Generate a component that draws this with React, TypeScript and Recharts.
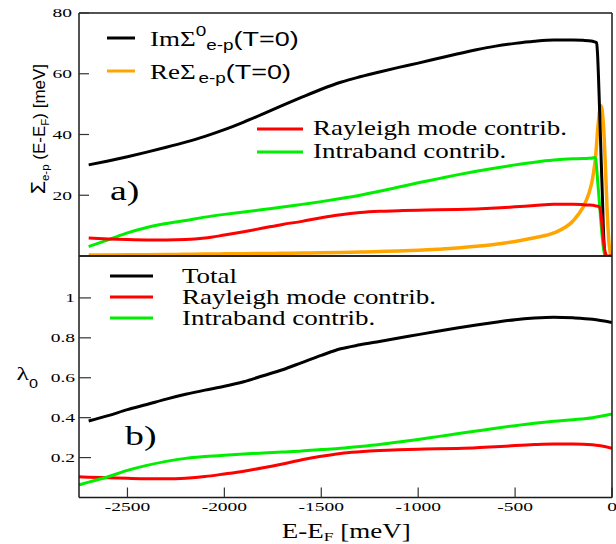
import React from 'react';
import { LineChart, Line, XAxis, YAxis } from 'recharts';

const SERIF = "'Liberation Serif', 'Times New Roman', serif";
const SANS = "'Liberation Sans', Arial, sans-serif";
const STRETCH = 1.35;

const BLACK = '#000000';
const ORANGE = '#ffa500';
const RED = '#ff0000';
const GREEN = '#00ee00';
const FRAME = '#1a1a1a';
const TICK = '#333333';

// panel a) : self energy vs E-E_F (meV)
const energyTop = [
  -2700, -2600, -2500, -2400, -2300, -2200, -2100, -2000, -1900, -1800, -1700, -1600, -1500,
  -1400, -1300, -1200, -1100, -1000, -900, -800, -700, -600, -500, -400, -300, -200,
  -150, -120, -100, -90, -85, -80, -75, -70, -65, -60, -55, -50, -45, -40, -35, -30, -25, -20,
  -15, -10, -5, 0,
];
const imSigma = [
  30.0, 31.3, 32.7, 34.2, 35.8, 37.5, 39.4, 41.6, 44.1, 46.8, 49.6, 52.3, 54.9,
  57.2, 59.0, 60.6, 62.1, 63.5, 65.0, 66.5, 67.9, 69.1, 70.0, 70.7, 71.1, 71.1,
  71.0, 70.9, 70.7, 70.5, 70.4, 70.2, 67.0, 59.5, 50.0, 40.0, 30.0, 20.5, 10.0, 3.0, 0.3, 0, null, null,
  null, null, null, null,
];
const reSigma = [
  0.3, 0.35, 0.4, 0.45, 0.5, 0.55, 0.62, 0.7, 0.76, 0.82, 0.88, 0.95, 1.05,
  1.18, 1.32, 1.48, 1.66, 1.88, 2.2, 2.6, 3.2, 3.9, 4.8, 6.0, 7.6, 11.6,
  16.0, 20.5, 25.5, 29.8, 32.5, 36.5, 40.8, 44.3, 47.3, 49.2, 49.5, 47.5, 44.0, 38.5, 31.0, 23.0, 15.0, 8.5,
  4.0, 1.5, 0.4, 0,
];
const rayleighSigma = [
  5.9, 5.6, 5.4, 5.3, 5.3, 5.4, 5.9, 6.9, 8.0, 9.2, 10.4, 11.4, 12.6,
  13.6, 14.3, 14.7, 14.9, 15.1, 15.2, 15.3, 15.5, 15.8, 16.2, 16.6, 17.0, 17.0,
  16.9, 16.8, 16.7, 16.6, 16.5, 16.5, 16.4, 16.3, 16.1, 15.4, 12.5, 9.0, 5.5, 3.0, 1.2, 0.3, 0, 0,
  0, 0, 0, 0,
];
const intraSigma = [
  3.1, 5.3, 7.6, 9.4, 10.7, 11.7, 12.8, 13.7, 14.5, 15.3, 16.1, 17.0, 17.9,
  18.9, 20.0, 21.3, 22.7, 24.1, 25.4, 26.7, 27.9, 29.0, 30.0, 30.9, 31.6, 32.0,
  32.1, 32.2, 32.3, 32.4, 32.3, 29.5, 25.5, 21.5, 17.5, 13.5, 9.5, 6.0, 3.0, 1.0, 0.2, 0, null, null,
  null, null, null, null,
];

// panel b) : coupling constant
const energyBottom = [
  -2750, -2700, -2600, -2500, -2400, -2300, -2200, -2100, -2000, -1900, -1800, -1700, -1600, -1500,
  -1400, -1300, -1200, -1100, -1000, -900, -800, -700, -600, -500, -400, -300, -200, -100, 0,
];
const lambdaTotal = [
  null, 0.383, 0.41, 0.44, 0.466, 0.493, 0.517, 0.538, 0.557, 0.58, 0.61, 0.64, 0.676, 0.712,
  0.745, 0.765, 0.782, 0.799, 0.816, 0.833, 0.849, 0.864, 0.878, 0.891, 0.899, 0.903, 0.9, 0.893, 0.877,
];
const lambdaRayleigh = [
  0.104, 0.102, 0.099, 0.096, 0.094, 0.094, 0.097, 0.105, 0.118, 0.132, 0.149, 0.168, 0.189, 0.207,
  0.221, 0.229, 0.235, 0.239, 0.242, 0.244, 0.246, 0.249, 0.254, 0.26, 0.265, 0.268, 0.268, 0.264, 0.247,
];
const lambdaIntra = [
  0.063, 0.077, 0.104, 0.136, 0.161, 0.181, 0.196, 0.205, 0.212, 0.218, 0.223, 0.228, 0.233, 0.24,
  0.247, 0.256, 0.266, 0.278, 0.291, 0.305, 0.319, 0.333, 0.347, 0.36, 0.372, 0.382, 0.39, 0.4, 0.418,
];

const xMajor = [-2500, -2000, -1500, -1000, -500, 0];
const xMinor = [-2250, -1750, -1250, -750, -250];
const sigmaMajor = [20, 40, 60, 80];
const sigmaMinor = [10, 30, 50, 70];
const lambdaMajor = [0.2, 0.4, 0.6, 0.8, 1];
const lambdaMinor = [0.1, 0.3, 0.5, 0.7, 0.9, 1.1];

const topData = energyTop.map((e, i) => ({
  e,
  im: imSigma[i],
  re: reSigma[i],
  ray: rayleighSigma[i],
  intra: intraSigma[i],
}));
const bottomData = energyBottom.map((e, i) => ({
  e,
  total: lambdaTotal[i],
  ray: lambdaRayleigh[i],
  intra: lambdaIntra[i],
}));

const X_DOMAIN: [number, number] = [-2750, 0];

const yTick = ({ x, y, payload }: any) => (
  <text
    transform={`translate(${x},${y}) scale(1.5,1)`}
    textAnchor="end"
    dy="0.34em"
    fontSize={13}
    fontFamily={SERIF}
    fill="#000"
  >
    {payload.value}
  </text>
);

const xTick = ({ x, y, payload }: any) => (
  <text
    transform={`translate(${x},${y}) scale(1.5,1)`}
    textAnchor="middle"
    dy="0.71em"
    fontSize={13}
    fontFamily={SERIF}
    fill="#000"
  >
    {payload.value}
  </text>
);

const frameLine = { stroke: FRAME, strokeWidth: 1.5 };
const tickLine = { stroke: TICK, strokeWidth: 1.2 };

function stretch(x: number, y: number, sx = STRETCH) {
  return `translate(${x},${y}) scale(${sx},1)`;
}

// every axis is 1px thick (recharts skips 0-sized axes); margins make up the rest
function SigmaPanel() {
  return (
    <LineChart width={616} height={262} data={topData} margin={{ top: 11, right: 2, bottom: 5, left: 77 }}>
      <XAxis xAxisId="b" dataKey="e" type="number" domain={X_DOMAIN} allowDataOverflow orientation="bottom"
        height={1} ticks={xMajor} tick={false} tickLine={false} axisLine={frameLine} />
      <XAxis xAxisId="t" dataKey="e" type="number" domain={X_DOMAIN} allowDataOverflow orientation="top"
        height={1} ticks={xMajor} interval={0} tick={false} tickSize={-10} tickLine={tickLine} axisLine={frameLine} />
      <XAxis xAxisId="tm" dataKey="e" type="number" domain={X_DOMAIN} allowDataOverflow orientation="top"
        height={1} ticks={xMinor} interval={0} tick={false} tickSize={-5} tickLine={tickLine} axisLine={false} />
      <YAxis yAxisId="l" type="number" domain={[0, 80]} allowDataOverflow width={1} ticks={sigmaMajor}
        interval={0} tickSize={-10} tickMargin={17} tick={yTick} tickLine={tickLine} axisLine={frameLine} />
      <YAxis yAxisId="lm" type="number" domain={[0, 80]} allowDataOverflow width={1} ticks={sigmaMinor}
        interval={0} tickSize={-5} tick={false} tickLine={tickLine} axisLine={false} />
      <YAxis yAxisId="r" orientation="right" type="number" domain={[0, 80]} allowDataOverflow width={1}
        ticks={sigmaMajor} interval={0} tickSize={-10} tick={false} tickLine={tickLine} axisLine={frameLine} />
      <YAxis yAxisId="rm" orientation="right" type="number" domain={[0, 80]} allowDataOverflow width={1}
        ticks={sigmaMinor} interval={0} tickSize={-5} tick={false} tickLine={tickLine} axisLine={false} />
      <Line xAxisId="b" yAxisId="l" type="monotone" dataKey="re" stroke={ORANGE} strokeWidth={3.5}
        dot={false} activeDot={false} isAnimationActive={false} />
      <Line xAxisId="b" yAxisId="l" type="monotone" dataKey="im" stroke={BLACK} strokeWidth={3}
        dot={false} activeDot={false} isAnimationActive={false} />
      <Line xAxisId="b" yAxisId="l" type="monotone" dataKey="intra" stroke={GREEN} strokeWidth={3}
        dot={false} activeDot={false} isAnimationActive={false} />
      <Line xAxisId="b" yAxisId="l" type="monotone" dataKey="ray" stroke={RED} strokeWidth={3}
        dot={false} activeDot={false} isAnimationActive={false} />
    </LineChart>
  );
}

function LambdaPanel() {
  return (
    <LineChart width={616} height={294} data={bottomData} margin={{ top: 4, right: 2, bottom: 44.5, left: 77 }}>
      <XAxis xAxisId="b" dataKey="e" type="number" domain={X_DOMAIN} allowDataOverflow orientation="bottom"
        height={1} ticks={xMajor} interval={0} tickSize={-10} tickMargin={14} tick={xTick}
        tickLine={tickLine} axisLine={frameLine} />
      <XAxis xAxisId="bm" dataKey="e" type="number" domain={X_DOMAIN} allowDataOverflow orientation="bottom"
        height={1} ticks={xMinor} interval={0} tickSize={-5} tick={false} tickLine={tickLine} axisLine={false} />
      <XAxis xAxisId="t" dataKey="e" type="number" domain={X_DOMAIN} allowDataOverflow orientation="top"
        height={1} ticks={xMajor} interval={0} tick={false} tickSize={-10} tickLine={tickLine} axisLine={frameLine} />
      <XAxis xAxisId="tm" dataKey="e" type="number" domain={X_DOMAIN} allowDataOverflow orientation="top"
        height={1} ticks={xMinor} interval={0} tick={false} tickSize={-5} tickLine={tickLine} axisLine={false} />
      <YAxis yAxisId="l" type="number" domain={[0, 1.21]} allowDataOverflow width={1} ticks={lambdaMajor}
        interval={0} tickSize={-12} tickMargin={16} tick={yTick} tickLine={tickLine} axisLine={frameLine} />
      <YAxis yAxisId="lm" type="number" domain={[0, 1.21]} allowDataOverflow width={1} ticks={lambdaMinor}
        interval={0} tickSize={-6} tick={false} tickLine={tickLine} axisLine={false} />
      <YAxis yAxisId="r" orientation="right" type="number" domain={[0, 1.21]} allowDataOverflow width={1}
        ticks={lambdaMajor} interval={0} tickSize={-12} tick={false} tickLine={tickLine} axisLine={frameLine} />
      <YAxis yAxisId="rm" orientation="right" type="number" domain={[0, 1.21]} allowDataOverflow width={1}
        ticks={lambdaMinor} interval={0} tickSize={-6} tick={false} tickLine={tickLine} axisLine={false} />
      <Line xAxisId="b" yAxisId="l" type="monotone" dataKey="total" stroke={BLACK} strokeWidth={3}
        dot={false} activeDot={false} isAnimationActive={false} />
      <Line xAxisId="b" yAxisId="l" type="monotone" dataKey="ray" stroke={RED} strokeWidth={3}
        dot={false} activeDot={false} isAnimationActive={false} />
      <Line xAxisId="b" yAxisId="l" type="monotone" dataKey="intra" stroke={GREEN} strokeWidth={3}
        dot={false} activeDot={false} isAnimationActive={false} />
    </LineChart>
  );
}

const plainLegendTop = [
  { label: 'Rayleigh mode contrib.', color: RED, y: 129 },
  { label: 'Intraband contrib.', color: GREEN, y: 152 },
];
const legendBottom = [
  { label: 'Total', color: BLACK, y: 276 },
  { label: 'Rayleigh mode contrib.', color: RED, y: 297 },
  { label: 'Intraband contrib.', color: GREEN, y: 318 },
];

function Annotations() {
  return (
    <svg width={616} height={544} style={{ position: 'absolute', left: 0, top: 0, pointerEvents: 'none' }}>
      {/* legend a) */}
      <line x1={107} x2={135} y1={38} y2={38} stroke={BLACK} strokeWidth={3} />
      <text transform={stretch(150, 46)} fontFamily={SERIF} fontSize={20} fill="#000">
        ImΣ
        <tspan fontFamily={SANS} fontSize={14} dy={-10}>0</tspan>
        <tspan fontFamily={SANS} fontSize={14} dy={14}>e-p</tspan>
        <tspan fontFamily={SANS} fontSize={20} dy={-4}>(T=0)</tspan>
      </text>
      <line x1={107} x2={135} y1={71} y2={71} stroke={ORANGE} strokeWidth={3} />
      <text transform={stretch(150, 79)} fontFamily={SERIF} fontSize={20} fill="#000">
        ReΣ
        <tspan fontFamily={SANS} fontSize={14} dx={2} dy={4}>e-p</tspan>
        <tspan fontFamily={SANS} fontSize={20} dy={-4}>(T=0)</tspan>
      </text>
      {plainLegendTop.map((d) => (
        <g key={d.label}>
          <line x1={257} x2={303} y1={d.y} y2={d.y} stroke={d.color} strokeWidth={3} />
          <text transform={stretch(313, d.y + 6)} fontFamily={SERIF} fontSize={20} fill="#000">{d.label}</text>
        </g>
      ))}
      {legendBottom.map((d) => (
        <g key={d.label}>
          <line x1={110} x2={153} y1={d.y} y2={d.y} stroke={d.color} strokeWidth={3} />
          <text transform={stretch(182, d.y + 7)} fontFamily={SERIF} fontSize={20} fill="#000">{d.label}</text>
        </g>
      ))}

      {/* panel tags */}
      <text transform={stretch(110, 200)} fontFamily={SERIF} fontSize={28} fill="#000">a)</text>
      <text transform={stretch(125, 445)} fontFamily={SERIF} fontSize={28} fill="#000">b)</text>

      {/* axis titles */}
      <text transform="translate(45,129) rotate(-90)" textAnchor="middle" fontFamily={SANS} fontSize={17} fill="#000">
        <tspan fontSize={21}>Σ</tspan>
        <tspan fontSize={11.5} dy={4}>e-p</tspan>
        <tspan dy={-4}> (E-E</tspan>
        <tspan fontSize={11.5} dy={4}>F</tspan>
        <tspan dy={-4}>) [meV]</tspan>
      </text>
      <text transform={stretch(16.5, 380)} fontFamily={SERIF} fontSize={19} fill="#000">
        λ
        <tspan fontFamily={SANS} fontSize={12} dy={8}>0</tspan>
      </text>
      <text transform={stretch(281.7, 537.5)} fontFamily={SERIF} fontSize={20} fill="#000">
        E-E
        <tspan fontSize={13} dy={3}>F</tspan>
        <tspan dy={-3}> [meV]</tspan>
      </text>
    </svg>
  );
}

export default function App() {
  return (
    <div style={{ position: 'absolute', left: 0, top: 0, width: 616, height: 544, background: '#fff', overflow: 'hidden' }}>
      <div style={{ position: 'absolute', left: 0, top: 0 }}>
        <SigmaPanel />
      </div>
      <div style={{ position: 'absolute', left: 0, top: 250 }}>
        <LambdaPanel />
      </div>
      <Annotations />
    </div>
  );
}
